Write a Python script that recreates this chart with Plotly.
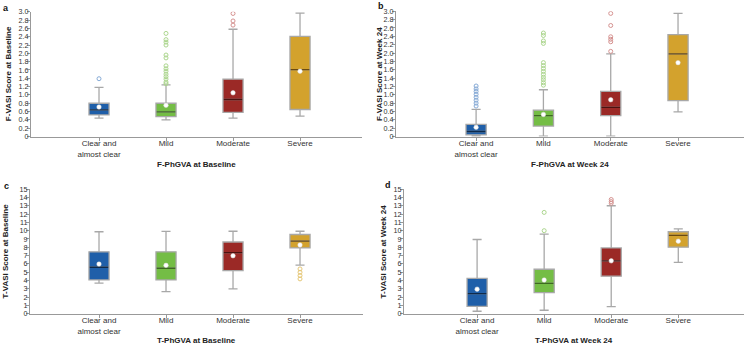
import plotly.graph_objects as go

cats = ["Clear and<br>almost clear", "Mild", "Moderate", "Severe"]
cat_pos = [0, 1, 2, 3]

# Panel a: F-VASI at Baseline
a_lo = [0.44, 0.40, 0.44, 0.49]
a_q1 = [0.52, 0.48, 0.58, 0.65]
a_med = [0.64, 0.59, 0.89, 1.61]
a_q3 = [0.80, 0.80, 1.38, 2.41]
a_hi = [1.18, 1.24, 2.58, 2.97]
a_mean = [0.71, 0.75, 1.05, 1.57]
a_out = [[1.39],
         [2.48, 2.33, 2.27, 2.20, 1.96, 1.89, 1.70, 1.63, 1.57, 1.50, 1.44, 1.38, 1.31, 1.27],
         [2.96, 2.78, 2.68],
         []]

# Panel b: F-VASI at Week 24
b_lo = [0.01, 0.01, 0.01, 0.59]
b_q1 = [0.04, 0.25, 0.50, 0.86]
b_med = [0.12, 0.50, 0.70, 1.98]
b_q3 = [0.29, 0.63, 1.08, 2.44]
b_hi = [0.65, 1.12, 1.98, 2.95]
b_mean = [0.22, 0.53, 0.88, 1.77]
b_out = [[1.21, 1.14, 1.08, 1.01, 0.94, 0.87, 0.80, 0.73],
         [2.48, 2.42, 2.29, 2.23, 1.77, 1.70, 1.63, 1.56, 1.49, 1.42, 1.36, 1.29, 1.23],
         [2.95, 2.66, 2.39, 2.33, 2.27, 2.04],
         []]

# Panel c: T-VASI at Baseline
c_lo = [3.69, 2.68, 3.01, 5.86]
c_q1 = [4.08, 4.08, 5.20, 7.93]
c_med = [5.60, 5.48, 7.35, 8.75]
c_q3 = [7.46, 7.46, 8.64, 9.54]
c_hi = [9.87, 9.91, 9.93, 9.93]
c_mean = [5.98, 5.83, 6.98, 8.29]
c_out = [[], [], [], [5.4, 5.0, 4.6, 4.2]]

# Panel d: T-VASI at Week 24
d_lo = [0.31, 0.43, 0.86, 6.18]
d_q1 = [0.90, 2.54, 4.53, 8.01]
d_med = [2.42, 3.67, 6.37, 9.44]
d_q3 = [4.26, 5.36, 7.93, 9.87]
d_hi = [8.94, 9.58, 13.0, 10.22]
d_mean = [2.97, 4.07, 6.37, 8.74]
d_out = [[], [12.2, 10.0], [13.75, 13.5, 13.3], []]

f_ticks = [0, 0.2, 0.4, 0.6, 0.8, 1.0, 1.2, 1.4, 1.6, 1.8, 2.0, 2.2, 2.4, 2.6, 2.8, 3.0]
f_ticktext = ["0"] + [f"{v:.1f}" for v in f_ticks[1:]]
t_ticks = list(range(0, 16))
t_ticktext = [str(v) for v in t_ticks]

fills = ["#1f5fa9", "#74bd45", "#9b2926", "#d3a22d"]
medians = ["#0f2a4a", "#3d6a20", "#4a1210", "#6a4a10"]
outcols = ["#86aad6", "#acd68e", "#d59290", "#e6c878"]
whisker = "#a8a8a8"

W, H = 746, 350
BOXW = 0.3

panels = [
    dict(lo=a_lo, q1=a_q1, med=a_med, q3=a_q3, hi=a_hi, mean=a_mean, out=a_out,
         ax="", xpx=(31, 362), xr=(-1.015, 3.925), ypx=(8, 136), yr=(0, 3.0),
         ticks=f_ticks, ticktext=f_ticktext,
         ytitle="F-VASI Score at Baseline", xtitle="F-PhGVA at Baseline",
         letter="a", lpos=(2, 4), ytx=8, xty=165),
    dict(lo=b_lo, q1=b_q1, med=b_med, q3=b_q3, hi=b_hi, mean=b_mean, out=b_out,
         ax="2", xpx=(396, 744), xr=(-1.19, 3.98), ypx=(7.5, 136), yr=(0, 3.0),
         ticks=f_ticks, ticktext=f_ticktext,
         ytitle="F-VASI Score at Week 24", xtitle="F-PhGVA at Week 24",
         letter="b", lpos=(377, 2), ytx=380, xty=165),
    dict(lo=c_lo, q1=c_q1, med=c_med, q3=c_q3, hi=c_hi, mean=c_mean, out=c_out,
         ax="3", xpx=(30, 363), xr=(-1.03, 3.94), ypx=(190, 318), yr=(0, 15),
         ticks=t_ticks, ticktext=t_ticktext,
         ytitle="T-VASI Score at Baseline", xtitle="T-PhGVA at Baseline",
         letter="c", lpos=(3, 187), ytx=5, xty=345),
    dict(lo=d_lo, q1=d_q1, med=d_med, q3=d_q3, hi=d_hi, mean=d_mean, out=d_out,
         ax="4", xpx=(404, 744), xr=(-1.09, 3.98), ypx=(190, 318), yr=(0, 15),
         ticks=t_ticks, ticktext=t_ticktext,
         ytitle="T-VASI Score at Week 24", xtitle="T-PhGVA at Week 24",
         letter="d", lpos=(384, 186), ytx=383, xty=345),
]

fig = go.Figure()
annotations = []
layout_axes = {}
FONT = "Liberation Sans, Arial, sans-serif"

for p in panels:
    xa = "x" + p["ax"]
    ya = "y" + p["ax"]
    for i, xp in enumerate(cat_pos):
        fig.add_trace(go.Box(
            x=[xp], q1=[p["q1"][i]], median=[p["med"][i]], q3=[p["q3"][i]],
            lowerfence=[p["lo"][i]], upperfence=[p["hi"][i]],
            width=BOXW, whiskerwidth=0.45, fillcolor=fills[i],
            line=dict(color=whisker, width=1.3), boxpoints=False,
            xaxis=xa, yaxis=ya, hoverinfo="skip", showlegend=False))
        # median line
        fig.add_trace(go.Scatter(
            x=[xp - BOXW / 2 + 0.01, xp + BOXW / 2 - 0.01], y=[p["med"][i], p["med"][i]],
            mode="lines", line=dict(color=medians[i], width=1.3),
            xaxis=xa, yaxis=ya, hoverinfo="skip", showlegend=False))
        # outliers
        if p["out"][i]:
            fig.add_trace(go.Scatter(
                x=[xp] * len(p["out"][i]), y=p["out"][i], mode="markers",
                marker=dict(symbol="circle-open", size=4, color=outcols[i],
                            line=dict(width=1, color=outcols[i])),
                xaxis=xa, yaxis=ya, hoverinfo="skip", showlegend=False))
        # mean
        fig.add_trace(go.Scatter(
            x=[xp], y=[p["mean"][i]], mode="markers",
            marker=dict(symbol="circle", size=4.5, color="white",
                        line=dict(width=0.5, color="#dddddd")),
            xaxis=xa, yaxis=ya, hoverinfo="skip", showlegend=False))

    xdom = [p["xpx"][0] / W, p["xpx"][1] / W]
    ydom = [1 - p["ypx"][1] / H, 1 - p["ypx"][0] / H]
    xkey = "xaxis" + p["ax"]
    ykey = "yaxis" + p["ax"]
    layout_axes[xkey] = dict(
        domain=xdom, range=list(p["xr"]), anchor=ya,
        tickmode="array", tickvals=cat_pos, ticktext=cats,
        ticks="outside", ticklen=3, tickcolor="#999999", tickwidth=1,
        ticklabelstandoff=-4,
        showline=True, linecolor="#999999", linewidth=1,
        showgrid=False, zeroline=False,
        tickfont=dict(size=8, color="#333333", family=FONT))
    layout_axes[ykey] = dict(
        domain=ydom, range=list(p["yr"]), anchor=xa,
        tickmode="array", tickvals=p["ticks"], ticktext=p["ticktext"],
        ticks="outside", ticklen=3, tickcolor="#999999", tickwidth=1,
        ticklabelstandoff=-3,
        showline=True, linecolor="#999999", linewidth=1,
        showgrid=False, zeroline=False,
        tickfont=dict(size=7.2, color="#333333", family=FONT))

    annotations.append(dict(
        text="<b>" + p["ytitle"] + "</b>", textangle=-90,
        x=p["ytx"] / W, y=1 - (p["ypx"][0] + p["ypx"][1]) / 2 / H,
        xref="paper", yref="paper", xanchor="center", yanchor="middle",
        showarrow=False, font=dict(size=8, color="#222222", family=FONT)))
    annotations.append(dict(
        text="<b>" + p["xtitle"] + "</b>",
        x=(p["xpx"][0] + p["xpx"][1]) / 2 / W, y=1 - p["xty"] / H,
        xref="paper", yref="paper", xanchor="center", yanchor="middle",
        showarrow=False, font=dict(size=8, color="#222222", family=FONT)))
    annotations.append(dict(
        text="<b>" + p["letter"] + "</b>",
        x=p["lpos"][0] / W, y=1 - p["lpos"][1] / H,
        xref="paper", yref="paper", xanchor="left", yanchor="middle",
        borderpad=0,
        showarrow=False, font=dict(size=9, color="#111111", family=FONT)))

fig.update_layout(
    width=W, height=H, margin=dict(l=0, r=0, t=0, b=0),
    paper_bgcolor="white", plot_bgcolor="white",
    boxmode="overlay", showlegend=False,
    annotations=annotations, font=dict(family=FONT),
    **layout_axes)

fig.write_html("out.html", config={"displayModeBar": False},
               post_script="document.body.style.margin='0';document.body.style.padding='0';")
